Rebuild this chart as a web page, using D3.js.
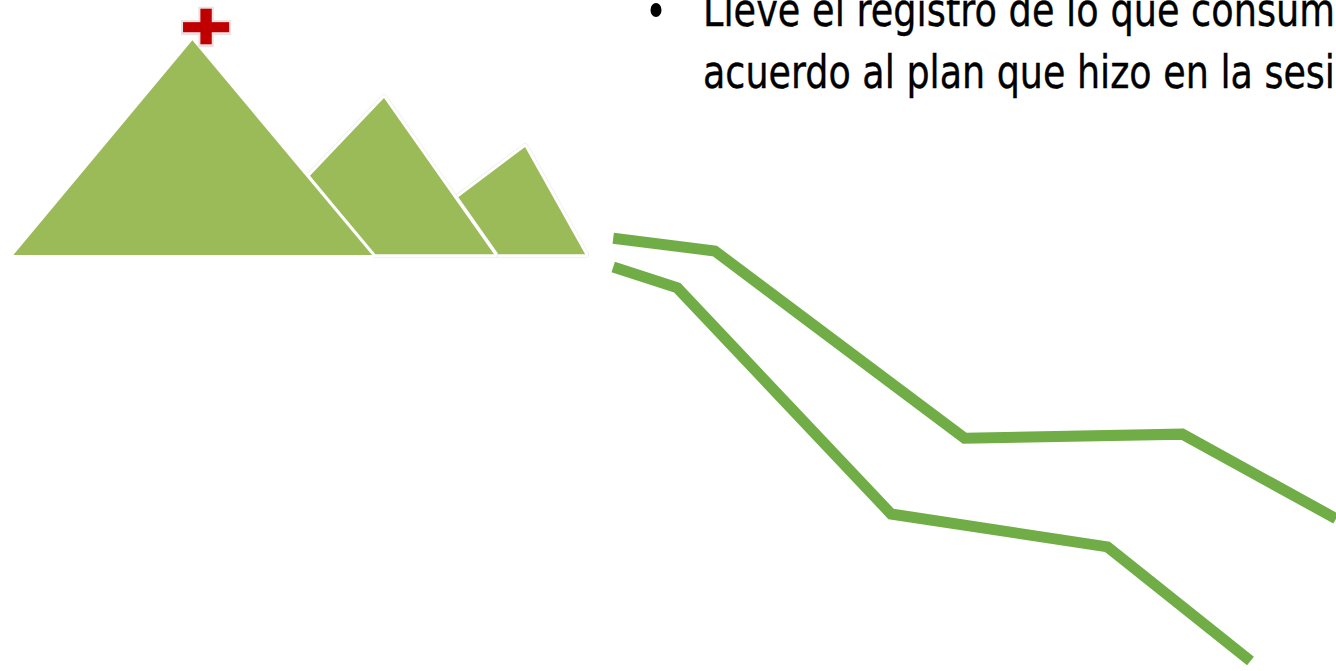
<!DOCTYPE html>
<html><head><meta charset="utf-8">
<style>html,body{margin:0;padding:0;background:#fff;overflow:hidden}svg{display:block}</style>
<script src="https://cdn.jsdelivr.net/npm/d3@7"></script></head>
<body><svg id="c" width="1336" height="671"></svg>
<script>
// values in percent of the picture area
const line1X=[45.9,53.5,72.2,88.5,100];
const line1Y=[64.5,62.6,34.7,35.3,22.7];
const line2X=[45.9,50.7,66.7,82.9,93.6];
const line2Y=[60.2,57.1,23.4,18.5,1.5];
const peak1X=[1.0,14.4,27.85];
const peak1Y=[62.0,94.0,62.0];
const peak2X=[23.2,28.74,36.98,28.0];
const peak2Y=[73.8,85.4,62.1,62.1];
const peak3X=[34.3,39.3,43.8,37.28];
const peak3Y=[70.6,78.1,62.1,62.1];
const crossX=[13.7,17.15,15.0,15.85];
const crossY=[96.7,95.2,98.7,93.4];
const textLines=["Lleve el registro de lo que consum","acuerdo al plan que hizo en la sesi"];

const W=1336,H=671;
const x=d3.scaleLinear().domain([0,100]).range([0,W]);
const y=d3.scaleLinear().domain([0,100]).range([H,0]);
const svg=d3.select("#c");
const path=d3.line().x(d=>x(d[0])).y(d=>y(d[1]));
const zip=(a,b)=>a.map((v,i)=>[v,b[i]]);

[[peak3X,peak3Y,true],[peak2X,peak2Y,true],[peak1X,peak1Y,false]].forEach(([a,b,halo])=>{
  const d=path(zip(a,b))+"Z";
  if(halo) svg.append("path").attr("d",d).attr("fill","none").attr("stroke","#eeeeea").attr("stroke-width",7.5).attr("stroke-linejoin","round");
  svg.append("path").attr("d",d).attr("fill","none").attr("stroke","#fff").attr("stroke-width",6).attr("stroke-linejoin","round");
  svg.append("path").attr("d",d).attr("fill","#9bbb59");
});

const cross=svg.append("g");
const rects=[[crossX[0],crossX[1],crossY[0],crossY[1]],[crossX[2],crossX[3],crossY[2],crossY[3]]];
cross.selectAll("rect.o").data(rects).join("rect").attr("class","o")
  .attr("x",d=>x(d[0])-2).attr("width",d=>x(d[1])-x(d[0])+4)
  .attr("y",d=>y(d[2])-2).attr("height",d=>y(d[3])-y(d[2])+5).attr("fill","#e8e2e2");
cross.selectAll("rect.i").data(rects).join("rect").attr("class","i")
  .attr("x",d=>x(d[0])).attr("width",d=>x(d[1])-x(d[0]))
  .attr("y",d=>y(d[2])).attr("height",d=>y(d[3])-y(d[2])).attr("fill","#c00000");

[[line1X,line1Y],[line2X,line2Y]].forEach(([a,b])=>{
  svg.append("path").attr("d",path(zip(a,b))).attr("fill","none")
    .attr("stroke","#70ad47").attr("stroke-width",11).attr("stroke-linejoin","miter");
});

svg.append("ellipse").attr("cx",656).attr("cy",10).attr("rx",5.5).attr("ry",7).attr("fill","#000");
svg.selectAll("text.t").data(textLines).join("text").attr("class","t")
  .attr("x",703).attr("y",(d,i)=>i?88:26)
  .attr("font-family","'DejaVu Sans'").attr("font-size",46).attr("fill","#000")
  .attr("stroke","#000").attr("stroke-width",0.4)
  .attr("textLength",632).attr("lengthAdjust","spacingAndGlyphs")
  .text(d=>d);
</script></body></html>
